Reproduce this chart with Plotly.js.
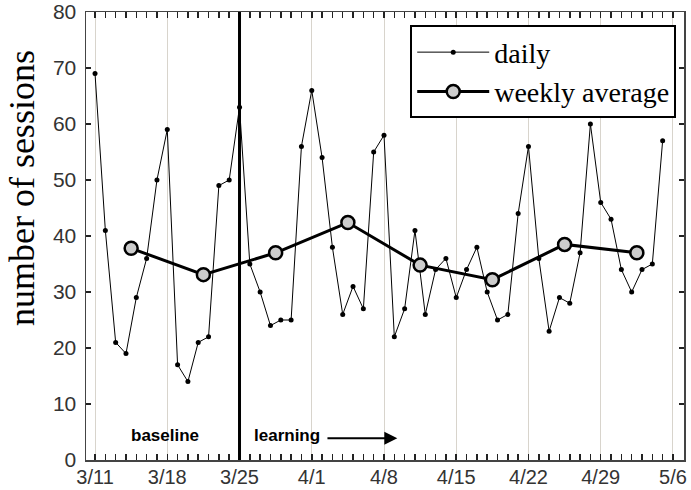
<!DOCTYPE html>
<html>
<head>
<meta charset="utf-8">
<script src="https://cdn.plot.ly/plotly-3.0.1.min.js"></script>
<style>html,body{margin:0;padding:0;background:#fff;}#chart{width:691px;height:490px;}</style>
</head>
<body>
<div id="chart"></div>
<script>
const dailyDates = [
  '2013-03-11','2013-03-12','2013-03-13','2013-03-14','2013-03-15','2013-03-16','2013-03-17',
  '2013-03-18','2013-03-19','2013-03-20','2013-03-21','2013-03-22','2013-03-23','2013-03-24',
  '2013-03-25','2013-03-26','2013-03-27','2013-03-28','2013-03-29','2013-03-30','2013-03-31',
  '2013-04-01','2013-04-02','2013-04-03','2013-04-04','2013-04-05','2013-04-06','2013-04-07',
  '2013-04-08','2013-04-09','2013-04-10','2013-04-11','2013-04-12','2013-04-13','2013-04-14',
  '2013-04-15','2013-04-16','2013-04-17','2013-04-18','2013-04-19','2013-04-20','2013-04-21',
  '2013-04-22','2013-04-23','2013-04-24','2013-04-25','2013-04-26','2013-04-27','2013-04-28',
  '2013-04-29','2013-04-30','2013-05-01','2013-05-02','2013-05-03','2013-05-04','2013-05-05'
];
const dailySessions = [
  69,41,21,19,29,36,50,
  59,17,14,21,22,49,50,
  63,35,30,24,25,25,56,
  66,54,38,26,31,27,55,
  58,22,27,41,26,34,36,
  29,34,38,30,25,26,44,
  56,36,23,29,28,37,60,
  46,43,34,30,34,35,57
];
const weeklyDates = [
  '2013-03-14 12:00','2013-03-21 12:00','2013-03-28 12:00','2013-04-04 12:00',
  '2013-04-11 12:00','2013-04-18 12:00','2013-04-25 12:00','2013-05-02 12:00'
];
const weeklyAverage = [37.8, 33.1, 37.0, 42.4, 34.8, 32.2, 38.5, 37.0];
const tickDates = ['2013-03-11','2013-03-18','2013-03-25','2013-04-01','2013-04-08','2013-04-15','2013-04-22','2013-04-29','2013-05-06'];
const tickLabels = ['3/11','3/18','3/25','4/1','4/8','4/15','4/22','4/29','5/6'];
const yTicks = [0,10,20,30,40,50,60,70,80];
const phaseStart = '2013-03-25';
const xRange = ['2013-03-10 03:00', '2013-05-07 01:40'];
const dayMs = 86400000;

const traces = [
  {
    x: dailyDates, y: dailySessions, name: 'daily', type: 'scatter', mode: 'lines+markers',
    line: {color: '#000', width: 1},
    marker: {color: '#000', size: 5}
  },
  {
    x: weeklyDates, y: weeklyAverage, name: 'weekly average', type: 'scatter', mode: 'lines+markers',
    line: {color: '#000', width: 3},
    marker: {color: '#cccccc', size: 13, line: {color: '#000', width: 2.5}}
  }
];

const layout = {
  width: 691, height: 490,
  margin: {l: 86, r: 7, t: 12, b: 30},
  paper_bgcolor: '#fff', plot_bgcolor: '#fff',
  showlegend: true,
  legend: {
    x: 0.987, xanchor: 'right', y: 0.97, yanchor: 'top',
    bgcolor: '#fff', bordercolor: '#000', borderwidth: 2,
    font: {family: 'Liberation Serif', size: 28, color: '#000'},
    itemwidth: 72, tracegroupgap: 0
  },
  xaxis: {
    type: 'date', range: xRange,
    tickvals: tickDates, ticktext: tickLabels,
    showgrid: true, gridcolor: '#d8d4cc', gridwidth: 1,
    ticks: 'inside', ticklen: 6, tickwidth: 1.5, tickcolor: '#222',
    minor: {tickmode: 'linear', tick0: dailyDates[0], dtick: dayMs,
            ticks: 'inside', ticklen: 6, tickwidth: 1.5, tickcolor: '#222', showgrid: false},
    showline: true, linecolor: '#444', linewidth: 1.5, mirror: 'allticks',
    tickfont: {family: 'Liberation Sans', size: 20, color: '#333'},
    ticklabelstandoff: -2,
    zeroline: false
  },
  yaxis: {
    range: [0, 80], tickvals: yTicks,
    showgrid: false, zeroline: false,
    ticks: 'inside', ticklen: 5, tickwidth: 1.5, tickcolor: '#222',
    showline: true, linecolor: '#444', linewidth: 1.5, mirror: 'allticks',
    tickfont: {family: 'Liberation Sans', size: 21, color: '#333'},
    ticklabelstandoff: 4
  },
  shapes: [
    {type: 'line', xref: 'x', yref: 'y', x0: phaseStart, x1: phaseStart, y0: 0, y1: 80, line: {color: '#000', width: 3}}
  ],
  annotations: [
    {xref: 'paper', yref: 'paper', x: -0.107, y: 0.607, xanchor: 'center', yanchor: 'middle',
     text: 'number of sessions', textangle: -90, showarrow: false,
     font: {family: 'Liberation Serif', size: 36, color: '#000'}},
    {xref: 'x', yref: 'y', x: '2013-03-17 19:00', y: 4.3, text: 'baseline', showarrow: false,
     font: {family: 'Liberation Sans', size: 17, color: '#000', weight: 'bold'}},
    {xref: 'x', yref: 'y', x: '2013-03-29 14:00', y: 4.3, text: 'learning', showarrow: false,
     font: {family: 'Liberation Sans', size: 17, color: '#000', weight: 'bold'}},
    {xref: 'x', yref: 'y', x: '2013-04-09 07:00', y: 3.9, axref: 'x', ayref: 'y', ax: '2013-04-02 09:00', ay: 3.9,
     text: '', showarrow: true, arrowhead: 2, arrowsize: 1.3, arrowwidth: 2, arrowcolor: '#000', standoff: 0, startstandoff: 0}
  ]
};

Plotly.newPlot('chart', traces, layout, {displayModeBar: false, staticPlot: true});
</script>
</body>
</html>
